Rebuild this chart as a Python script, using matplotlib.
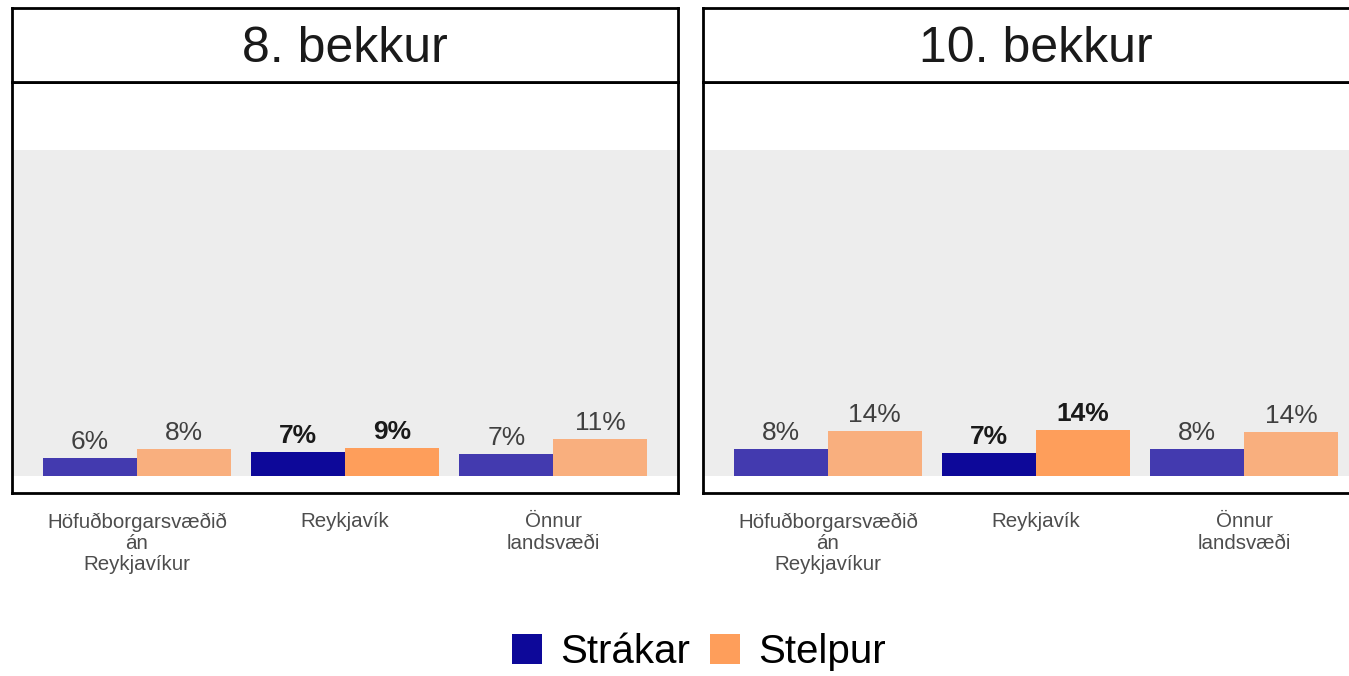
import matplotlib
matplotlib.use("Agg")
import matplotlib.pyplot as plt
from matplotlib.patches import Patch
import numpy as np

plt.rcParams['font.family'] = ['Liberation Sans', 'DejaVu Sans']

# ---- data ----
categories = ["Höfuðborgarsvæðið\nán\nReykjavíkur", "Reykjavík", "Önnur\nlandsvæði"]
grades = ["8. bekkur", "10. bekkur"]
series = ["Strákar", "Stelpur"]
strakar = {"8. bekkur": [5.6, 7.3, 6.9], "10. bekkur": [8.4, 7.1, 8.4]}
stelpur = {"8. bekkur": [8.2, 8.7, 11.4], "10. bekkur": [13.8, 14.1, 13.6]}
highlight = "Reykjavík"

# ---- styles ----
col_boy = "#0D0899"
col_boy_light = "#433AAF"
col_girl = "#FE9E5B"
col_girl_light = "#F9AF7E"
W, H = 1349, 676
fig = plt.figure(figsize=(W / 100, H / 100), dpi=100)

panel_left = [12, 703]
panel_w = 666
body_top, body_bot = 82, 493
strip_top = 8

x = np.arange(len(categories))
bw = 0.45

for gi, g in enumerate(grades):
    L = panel_left[gi]
    ax = fig.add_axes([L / W, 1 - body_bot / H, panel_w / W, (body_bot - body_top) / H])
    ax.set_xlim(-0.6, len(categories) - 0.4)
    ax.set_ylim(-5.2, 121)
    ax.axhspan(0, 100, facecolor="#EDEDED", edgecolor="none", zorder=0)
    for i, c in enumerate(categories):
        hl = (c == highlight)
        b = strakar[g][i]
        s = stelpur[g][i]
        ax.bar(x[i] - bw / 2, b, width=bw, color=col_boy if hl else col_boy_light, zorder=2)
        ax.bar(x[i] + bw / 2, s, width=bw, color=col_girl if hl else col_girl_light, zorder=2)
        tcol = "#1A1A1A" if hl else "#404040"
        fw = "bold" if hl else "normal"
        for xx, v in [(x[i] - bw / 2, b), (x[i] + bw / 2, s)]:
            ax.text(xx, v + 1.2, f"{round(v)}%", ha="center", va="bottom",
                    fontsize=19, color=tcol, fontweight=fw, zorder=3)
    ax.set_xticks(x)
    ax.set_xticklabels(categories, fontsize=14.8, color="#4D4D4D", linespacing=1.14)
    ax.tick_params(axis="x", length=0, pad=14)
    ax.set_yticks([])
    for sp in ax.spines.values():
        sp.set_color("black")
        sp.set_linewidth(2)

    sax = fig.add_axes([L / W, 1 - body_top / H, panel_w / W, (body_top - strip_top) / H])
    sax.set_xticks([])
    sax.set_yticks([])
    sax.set_facecolor("white")
    for sp in sax.spines.values():
        sp.set_color("black")
        sp.set_linewidth(2)
    sax.text(0.5, 0.27, g, ha="center", va="baseline", fontsize=36, color="#1A1A1A",
             transform=sax.transAxes)

handles = [Patch(facecolor=col_boy, edgecolor="none"), Patch(facecolor=col_girl, edgecolor="none")]
fig.legend(handles, series, loc="center", bbox_to_anchor=(0.518, 1 - 652 / H), ncol=2,
           frameon=False, fontsize=29, handlelength=0.75, handleheight=0.75,
           handletextpad=0.45, columnspacing=0.5, borderpad=0)

fig.savefig("out.png", dpi=100)
